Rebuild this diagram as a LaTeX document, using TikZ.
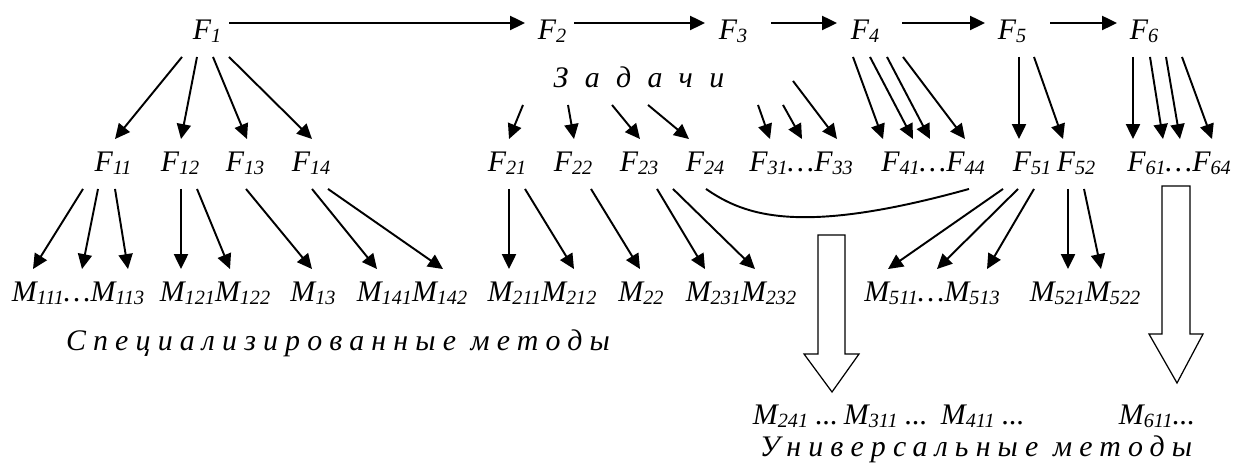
\documentclass[tikz,border=0pt]{standalone}
\usepackage{fontspec}
\setmainfont{Liberation Serif}
\newfontfamily\spacedfont[LetterSpace=24]{Liberation Serif}
\newfontfamily\widefont[LetterSpace=55]{Liberation Serif}
\usepackage{tikz}
\usetikzlibrary{arrows.meta,calc}
\newcommand{\ix}[1]{\raisebox{-1.7pt}{\fontsize{11.5}{12}\selectfont #1}}

\begin{document}
\begin{tikzpicture}[x=0.02cm, y=-0.02cm, >={Triangle[length=8.5pt,width=8pt]}, line width=1.1pt]
  \tikzset{fn/.style={inner xsep=0pt, inner ysep=0.24cm, text height=0.4cm, text depth=0.08cm, anchor=base, font=\fontsize{17}{20}\selectfont\itshape}}
  \tikzset{caption/.style={inner sep=0pt, anchor=base, font=\fontsize{17}{20}\selectfont\itshape}}
  \tikzset{hollow/.style={draw, fill=white, line width=0.7pt, line join=miter}}
  \useasboundingbox (0,0) rectangle (1243,475);

  % functions
  \node[fn] (f1) at (207,40) {F\ix{1}};
  \node[fn] (f2) at (552,40) {F\ix{2}};
  \node[fn] (f3) at (733,40) {F\ix{3}};
  \node[fn] (f4) at (865,40) {F\ix{4}};
  \node[fn] (f5) at (1012,40) {F\ix{5}};
  \node[fn] (f6) at (1144,40) {F\ix{6}};
  \node[fn, font=\fontsize{17}{20}\selectfont\widefont\itshape] (zad) at (639,88) {Задачи};

  % subfunctions
  \node[fn] (f11) at (113,172) {F\ix{11}};
  \node[fn] (f12) at (180,172) {F\ix{12}};
  \node[fn] (f13) at (245,172) {F\ix{13}};
  \node[fn] (f14) at (311,172) {F\ix{14}};
  \node[fn] (f21) at (507,172) {F\ix{21}};
  \node[fn] (f22) at (573,172) {F\ix{22}};
  \node[fn] (f23) at (639,172) {F\ix{23}};
  \node[fn] (f24) at (705,172) {F\ix{24}};
  \node[fn] (f3s) at (801,172) {F\ix{31}…F\ix{33}};
  \node[fn] (f4s) at (933,172) {F\ix{41}…F\ix{44}};
  \node[fn] (f51) at (1032,172) {F\ix{51}};
  \node[fn] (f52) at (1076,172) {F\ix{52}};
  \node[fn] (f6s) at (1179,172) {F\ix{61}…F\ix{64}};

  % methods
  \node[fn] (m11) at (78,302) {M\ix{111}…M\ix{113}};
  \node[fn] (m12) at (215,302) {M\ix{121}M\ix{122}};
  \node[fn] (m13) at (313,302) {M\ix{13}};
  \node[fn] (m14) at (412,302) {M\ix{141}M\ix{142}};
  \node[fn] (m21) at (542,302) {M\ix{211}M\ix{212}};
  \node[fn] (m22) at (641,302) {M\ix{22}};
  \node[fn] (m23) at (741,302) {M\ix{231}M\ix{232}};
  \node[fn] (m51) at (932,302) {M\ix{511}…M\ix{513}};
  \node[fn] (m52) at (1085,302) {M\ix{521}M\ix{522}};
  \node[caption, font=\fontsize{17}{20}\selectfont\spacedfont\itshape] (spec) at (338,351) {Специализированные методы};

  \node[caption, anchor=base west] (u24) at (752,425) {M\ix{241} ...};
  \node[caption, anchor=base west] (u31) at (843,425) {M\ix{311} ...};
  \node[caption, anchor=base west] (u41) at (940,425) {M\ix{411} ...};
  \node[caption, anchor=base west] (u61) at (1118,425) {M\ix{611}...};
  \node[caption, font=\fontsize{17}{20}\selectfont\spacedfont\itshape] (univ) at (976,457) {Универсальные методы};

  % chain of functions
  \foreach \a/\dx/\b/\ex in {f1/22/f2/-27, f2/22/f3/-28, f3/38/f4/-28, f4/37/f5/-27, f5/38/f6/-27}
    \draw[->] ($(\a.center)+(\dx,-9)$) -- ($(\b.center)+(\ex,-9)$);

  % decomposition
  \foreach \a/\dx/\b/\ex in {f1/-25/f11/2, f1/-10/f12/1, f1/6/f13/2, f1/22/f14/1,
      zad/-116/f21/2, zad/-71/f22/1, zad/-27/f23/1, zad/9/f24/-16, zad/119/f3s/-31, zad/144/f3s/1,
      f4/-12/f4s/-50, f4/5/f4s/-20, f4/22/f4s/-3, f4/38/f4s/32,
      f5/7/f51/-13, f5/22/f52/-13,
      f6/-11/f6s/-46, f6/6/f6s/-16, f6/22/f6s/1, f6/38/f6s/33,
      f11/-30/m11/-45, f11/-15/m11/4, f11/2/m11/50, f12/1/m12/-34, f12/17/m12/15,
      f13/1/m13/-1, f14/1/m14/-35, f14/17/m14/31,
      f21/2/m21/-33, f21/18/m21/32, f22/18/m22/-1, f23/18/m23/-36, f23/34/m23/14,
      f51/-29/m51/-44, f51/-14/m51/5, f51/2/m51/55, f52/-8/m52/-17, f52/8/m52/16}
    \draw[->] ($(\a.south)+(\dx,0)$) -- ($(\b.north)+(\ex,0)$);
  \draw[->] ($(zad.south)+(154,-24)$) -- ($(f3s.north)+(36,0)$);

  \draw ($(f24.south)+(1,0)$) .. controls ($(f24.south)+(40,27)$) and ($(f4s.south)+(-133,47)$) .. ($(f4s.south)+(36,0)$);

  % transition to universal methods
  \draw[hollow] (818,235) -- ++(27,0) -- ++(0,119) -- ++(14,0) -- (832,392) -- (804,354) -- (818,354) -- cycle;
  \draw[hollow] (1162,186) -- ++(28,0) -- ++(0,148) -- ++(13,0) -- (1177,383) -- (1149,334) -- (1162,334) -- cycle;
\end{tikzpicture}
\end{document}
